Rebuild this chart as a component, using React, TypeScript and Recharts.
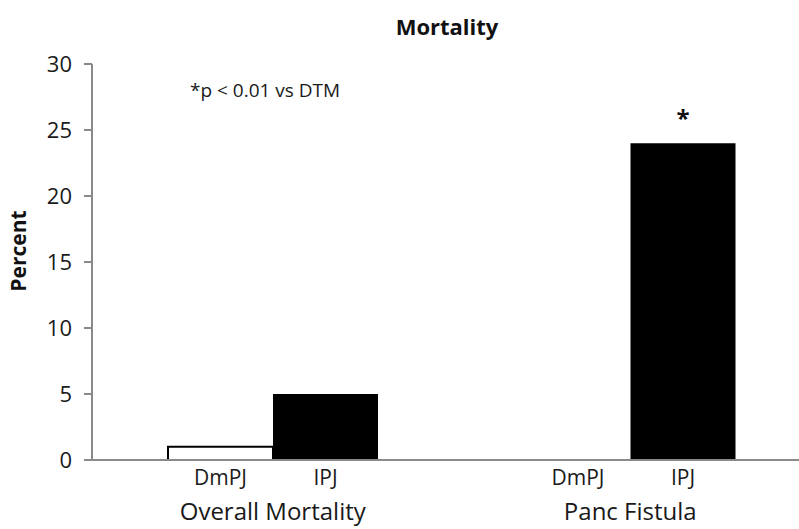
import React from "react";
import { BarChart, Bar, XAxis, YAxis, LabelList } from "recharts";

// Outcome groups and the two series (percent)
const groups = ["Overall Mortality", "Panc Fistula"];
const seriesNames = ["DmPJ", "IPJ"];
const dmpjValues = [1, 0];
const ipjValues = [5, 24];
const ipjSignificance = ["", "*"];
const yTicks = [0, 5, 10, 15, 20, 25, 30];

const data = groups.map((group, i) => ({
  group,
  dmpj: dmpjValues[i],
  ipj: ipjValues[i],
  sig: ipjSignificance[i],
}));

const FONT = "'Open Sans', 'Noto Sans', sans-serif";
const AXIS_GRAY = "#8a8a8a";

// Series names under each bar pair. Drawn from the IPJ bar, since a zero
// DmPJ bar gets no label; the DmPJ bar sits right beside it (barGap 0).
function SeriesNames(props: any) {
  const { x, y, width, height } = props;
  const cx = Number(x) + Number(width) / 2;
  const w = Number(width);
  const base = Number(y) + Number(height) + 25;
  return (
    <g>
      {[cx - w, cx].map((px, i) => (
        <text
          key={seriesNames[i]}
          x={px}
          y={base}
          textAnchor="middle"
          fontFamily={FONT}
          fontSize={21}
          fill="#1a1a1a"
        >
          {seriesNames[i]}
        </text>
      ))}
    </g>
  );
}

function SigLabel(props: any) {
  const { x, y, width, index } = props;
  const mark = ipjSignificance[index];
  if (!mark) return null;
  return (
    <text
      x={Number(x) + Number(width) / 2}
      y={Number(y) - 16}
      textAnchor="middle"
      fontFamily={FONT}
      fontWeight={700}
      fontSize={24}
      fill="#111"
    >
      {mark}
    </text>
  );
}

function GroupTick(props: any) {
  const { x, y, payload } = props;
  return (
    <text
      x={x}
      y={Number(y) + 60}
      textAnchor="middle"
      fontFamily={FONT}
      fontSize={24}
      fill="#1a1a1a"
    >
      {payload.value}
    </text>
  );
}

export default function App() {
  return (
    <div
      style={{
        position: "absolute",
        left: 0,
        top: 0,
        width: 799,
        height: 529,
        overflow: "hidden",
        background: "#fff",
      }}
    >
      <BarChart
        width={816}
        height={529}
        data={data}
        margin={{ top: 64, right: 7, bottom: 0, left: 0 }}
        barCategoryGap={74}
        barGap={0}
      >
        <text
          x={447}
          y={35}
          textAnchor="middle"
          fontFamily={FONT}
          fontWeight={700}
          fontSize={22}
          fill="#111"
        >
          Mortality
        </text>
        <text x={190} y={97} fontFamily={FONT} fontSize={19} fill="#1a1a1a">
          *p &lt; 0.01 vs DTM
        </text>
        <text
          x={26}
          y={251}
          transform="rotate(-90 26 251)"
          textAnchor="middle"
          fontFamily={FONT}
          fontWeight={700}
          fontSize={21}
          fill="#111"
        >
          Percent
        </text>
        <XAxis
          dataKey="group"
          height={69}
          padding={{ left: 2, right: 0 }}
          tickLine={false}
          tickSize={0}
          tickMargin={0}
          axisLine={{ stroke: AXIS_GRAY, strokeWidth: 2 }}
          tick={<GroupTick />}
          interval={0}
        />
        <YAxis
          width={92}
          domain={[0, 30]}
          ticks={yTicks}
          interval={0}
          tickSize={8}
          tickMargin={12}
          axisLine={{ stroke: AXIS_GRAY, strokeWidth: 2 }}
          tickLine={{ stroke: AXIS_GRAY, strokeWidth: 2 }}
          tick={{ fontFamily: FONT, fontSize: 22, fill: "#1a1a1a" }}
        />
        <Bar
          dataKey="dmpj"
          fill="#ffffff"
          stroke="#000"
          strokeWidth={2}
          isAnimationActive={false}
        />
        <Bar dataKey="ipj" fill="#000" isAnimationActive={false}>
          <LabelList dataKey="ipj" content={<SeriesNames />} />
          <LabelList dataKey="sig" content={<SigLabel />} />
        </Bar>
      </BarChart>
    </div>
  );
}
